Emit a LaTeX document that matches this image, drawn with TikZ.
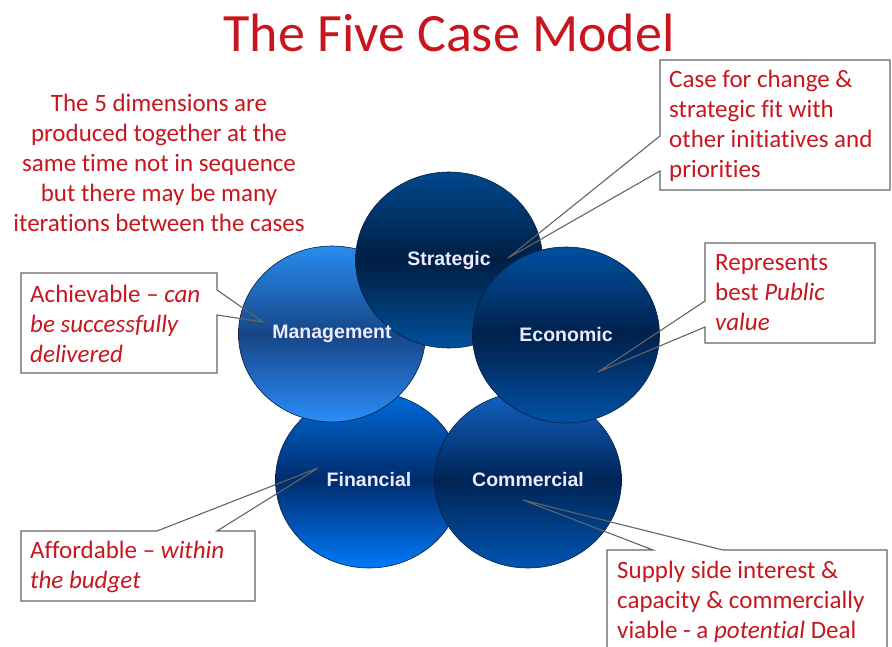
\documentclass[tikz,border=0pt]{standalone}
\usepackage{fontspec}
\setmainfont{Carlito}[Ligatures={TeX,NoCommon}]
\newfontfamily\labelfont{Liberation Sans}
\usetikzlibrary{shapes.geometric}
\definecolor{txtred}{RGB}{200,22,30}
\definecolor{boxgray}{RGB}{100,100,100}
\definecolor{rimblue}{RGB}{10,30,60}
\begin{document}
\begin{tikzpicture}[x=1pt,y=-1pt,
  disc/.style={ellipse, draw=rimblue, line width=0.6pt, minimum width=187pt, minimum height=176pt, inner sep=0pt},
  disclabel/.style={inner sep=0pt, text=white!92!blue, font=\labelfont\bfseries\fontsize{19.5}{24}\selectfont},
  boxnode/.style={inner sep=0pt, outer sep=0pt, anchor=north west},
  callout/.style={draw=boxgray, line width=1.1pt, line join=miter},
  calltext/.style={inner sep=0pt, anchor=north west, align=left, text=txtred,
    font=\fontsize{25}{30}\selectfont},
]
\useasboundingbox (0,0) rectangle (892,646);
\fill[white] (0,0) rectangle (892,646);

% title and note
\node[inner sep=0pt, text=txtred, font=\fontsize{54}{60}\selectfont] (title) at (449,33) {The Five Case Model};
\node[inner sep=0pt, text=txtred, align=center, font=\fontsize{25}{30}\selectfont, anchor=north] (note) at (159,94)
  {The 5 dimensions are\\produced together at the\\same time not in sequence\\but there may be many\\iterations between the cases};

% circles (stacking order)
\node[disc, top color={rgb,255:red,0;green,108;blue,222}, bottom color={rgb,255:red,0;green,122;blue,250}, middle color={rgb,255:red,0;green,44;blue,108}] (fin) at (369,480) {};
\node[disc, top color={rgb,255:red,18;green,98;blue,196}, bottom color={rgb,255:red,0;green,86;blue,178}, middle color={rgb,255:red,0;green,36;blue,84}] (com) at (528,480) {};
\node[disc, top color={rgb,255:red,40;green,140;blue,240}, bottom color={rgb,255:red,42;green,142;blue,250}, middle color={rgb,255:red,22;green,70;blue,134}] (man) at (332,334) {};
\node[disc, top color={rgb,255:red,0;green,72;blue,140}, bottom color={rgb,255:red,0;green,80;blue,155}, middle color={rgb,255:red,0;green,30;blue,68}] (str) at (449,260) {};
\node[disc, top color={rgb,255:red,0;green,80;blue,160}, bottom color={rgb,255:red,0;green,82;blue,165}, middle color={rgb,255:red,0;green,33;blue,76}] (eco) at (566,335) {};

% circle labels
\node[disclabel] (finl) at (fin.center) {Financial};
\node[disclabel] (coml) at (com.center) {Commercial};
\node[disclabel] (manl) at (man.center) {Management};
\node[disclabel] (strl) at (str.center) {Strategic};
\node[disclabel] (ecol) at (eco.center) {Economic};

% callout 1: strategic
\node[boxnode, minimum width=230pt, minimum height=130pt] (b1) at (660,60) {};
\coordinate (b1a) at (660,136);
\coordinate (b1b) at (660,171);
\coordinate (t1) at (508,258);
\draw[callout] (b1a) -- (b1.north west) -- (b1.north east) -- (b1.south east) -- (b1.south west) -- (b1b) -- (t1) -- cycle;
\node[calltext] (x1) at (669,70) {Case for change \&\\strategic fit with\\other initiatives and\\priorities};

% callout 2: economic
\node[boxnode, minimum width=170pt, minimum height=100pt] (b2) at (705,243) {};
\coordinate (b2a) at (705,301);
\coordinate (b2b) at (705,327);
\coordinate (t2) at (598,372);
\draw[callout] (b2a) -- (b2.north west) -- (b2.north east) -- (b2.south east) -- (b2.south west) -- (b2b) -- (t2) -- cycle;
\node[calltext] (x2) at (715,254) {Represents\\best \textit{Public}\\\textit{value}};

% callout 3: management
\node[boxnode, minimum width=196pt, minimum height=100pt] (b3) at (21,273) {};
\coordinate (b3a) at (217,290);
\coordinate (b3b) at (217,315);
\coordinate (t3) at (263,322);
\draw[callout] (b3a) -- (b3.north east) -- (b3.north west) -- (b3.south west) -- (b3.south east) -- (b3b) -- (t3) -- cycle;
\node[calltext] (x3) at (30,285) {Achievable – \textit{can}\\\textit{be successfully}\\\textit{delivered}};

% callout 4: financial
\node[boxnode, minimum width=234pt, minimum height=70pt] (b4) at (21,531) {};
\coordinate (b4a) at (157,531);
\coordinate (b4b) at (217,531);
\coordinate (t4) at (318,468);
\draw[callout] (b4a) -- (b4.north west) -- (b4.south west) -- (b4.south east) -- (b4.north east) -- (b4b) -- (t4) -- cycle;
\node[calltext] (x4) at (30,541) {Affordable – \textit{within}\\\textit{the budget}};

% callout 5: commercial
\node[boxnode, minimum width=280pt, minimum height=110pt] (b5) at (607,550) {};
\coordinate (b5a) at (653,550);
\coordinate (b5b) at (723,550);
\coordinate (t5) at (523,500);
\draw[callout] (b5a) -- (b5.north west) -- (b5.south west) -- (b5.south east) -- (b5.north east) -- (b5b) -- (t5) -- cycle;
\node[calltext] (x5) at (617,561) {Supply side interest \&\\capacity \& commercially\\viable - a \textit{potential} Deal};
\end{tikzpicture}
\end{document}
